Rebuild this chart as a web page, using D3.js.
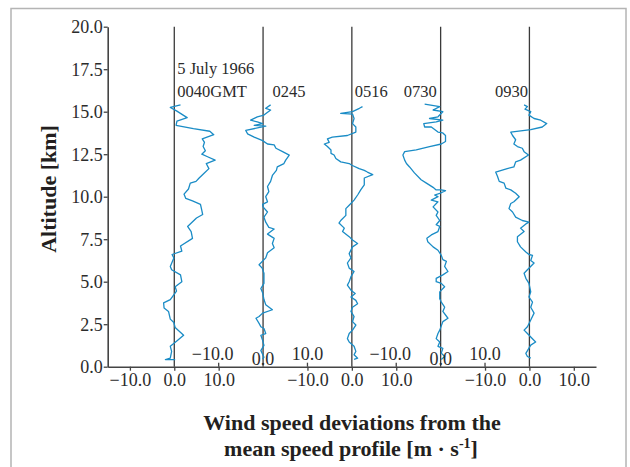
<!DOCTYPE html>
<html>
<head>
<meta charset="utf-8">
<script src="https://cdn.jsdelivr.net/npm/d3@7"></script>
<style>
  body { margin: 0; background: #fff; }
  text { font-family: "Liberation Serif", "Times New Roman", serif; }
</style>
</head>
<body>
<svg id="chart" width="630" height="467"></svg>
<script>
"use strict";

// soundings: [altitude km, deviation m/s]
var p0040 = [[15.4,1.4],[15.25,-0.9],[15.05,0.5],[14.8,2.0],[14.65,2.9],[14.45,0.6],[14.2,0.4],[14.0,4.3],[13.85,8.0],[13.65,8.9],[13.4,6.3],[13.2,6.8],[12.95,6.5],[12.7,7.0],[12.5,6.2],[12.35,7.5],[12.15,9.2],[11.95,7.2],[11.65,7.8],[11.35,6.6],[11.1,5.6],[10.9,4.9],[10.8,3.6],[10.45,3.2],[10.15,2.2],[9.9,2.6],[9.75,4.1],[9.55,5.9],[9.2,6.2],[8.95,6.4],[8.75,5.0],[8.5,4.0],[8.25,3.0],[7.95,3.8],[7.55,4.1],[7.1,1.4],[6.8,1.7],[6.6,-0.5],[6.4,-0.1],[5.9,-0.9],[5.7,-0.6],[5.4,1.4],[5.0,1.7],[4.7,0.2],[4.45,0.5],[3.95,-0.9],[3.75,-2.4],[3.45,-2.3],[3.25,-1.3],[2.8,-0.9],[2.6,-0.1],[2.3,0.2],[1.85,2.1],[1.5,0.5],[1.2,-0.9],[0.9,-0.6],[0.5,-0.9],[0.42,-2.0],[0.42,0.2]];
var p0245 = [[15.4,1.7],[15.2,0.6],[15.1,1.7],[14.8,0.2],[14.7,-1.3],[14.5,-2.8],[14.4,-1.3],[14.3,-0.1],[14.2,-2.0],[14.15,0.6],[13.9,-3.9],[13.7,-3.5],[13.5,-2.0],[13.3,-0.1],[13.1,1.0],[13.05,2.5],[12.85,2.9],[12.65,4.4],[12.45,5.9],[12.15,5.1],[11.95,4.7],[11.75,3.2],[11.55,3.0],[11.25,2.1],[10.9,1.7],[10.6,1.0],[10.3,1.3],[10.0,0.6],[9.7,1.0],[9.55,-0.1],[9.4,0.0],[9.1,1.0],[8.8,0.2],[8.5,0.6],[8.2,1.3],[8.1,2.5],[7.8,1.0],[7.55,2.5],[7.25,2.1],[7.0,2.5],[6.7,1.0],[6.4,0.6],[6.0,-0.9],[5.8,-0.2],[5.5,0.2],[4.9,0.2],[4.6,-0.5],[4.35,-0.1],[3.95,0.2],[3.65,0.6],[3.35,2.1],[3.15,-0.1],[2.95,-0.9],[2.85,-1.6],[2.55,-0.9],[2.35,-0.5],[2.25,0.2],[1.95,0.6],[1.85,-0.5],[1.55,-0.1],[1.25,0.2],[0.95,-0.5],[0.55,0.2],[0.45,-0.1]];
var p0516 = [[15.3,2.4],[15.2,1.7],[15.0,0.15],[14.9,-2.5],[14.86,0.15],[14.6,0.5],[14.3,0.15],[14.1,0.9],[13.8,0.9],[13.6,-1.0],[13.5,-4.4],[13.4,-5.5],[13.2,-5.1],[13.1,-6.2],[12.95,-5.5],[12.75,-4.7],[12.55,-4.7],[12.45,-4.0],[12.25,-3.6],[12.05,-2.5],[11.95,-0.6],[11.85,0.0],[11.65,1.65],[11.55,2.8],[11.45,3.5],[11.3,4.7],[11.1,2.8],[10.7,2.8],[10.4,2.0],[10.1,1.3],[9.8,0.5],[9.5,-0.6],[9.3,-1.35],[8.9,-1.35],[8.6,-2.5],[8.45,-2.9],[8.15,-1.7],[7.95,-2.1],[7.65,-0.6],[7.45,0.15],[7.25,1.3],[7.05,0.15],[6.65,-0.6],[6.4,-0.2],[6.1,-1.0],[5.8,-0.6],[5.6,0.5],[5.3,-0.2],[5.0,-0.6],[4.8,-1.0],[4.5,-0.2],[4.3,0.75],[4.1,-0.2],[3.9,0.9],[3.7,1.3],[3.5,0.15],[3.25,-0.2],[2.95,0.5],[2.65,0.15],[2.45,0.9],[2.15,0.15],[1.95,-0.6],[1.65,-1.0],[1.45,-0.6],[1.2,0.5],[0.9,0.9],[0.7,0.5],[0.5,1.3],[0.43,0.5]];
var p0730 = [[15.45,-3.6],[15.3,-0.2],[15.1,-1.7],[15.0,0.5],[14.7,-0.6],[14.6,-2.5],[14.5,0.5],[14.4,-1.0],[14.3,-3.8],[14.1,-3.6],[14.1,-2.1],[13.8,-0.6],[13.75,0.5],[13.6,1.1],[13.25,1.1],[13.1,0.15],[12.95,-2.5],[12.75,-5.5],[12.65,-8.1],[12.45,-8.5],[12.15,-8.1],[11.95,-7.7],[11.75,-7.0],[11.4,-5.9],[11.0,-4.4],[10.8,-3.2],[10.55,-1.7],[10.4,-1.0],[10.4,0.15],[10.35,1.1],[10.2,-0.2],[10.1,-1.35],[10.0,-0.6],[9.8,-2.1],[9.7,-0.6],[9.4,-1.7],[9.1,-0.6],[8.9,-1.0],[8.6,-0.2],[8.35,-1.0],[8.25,-0.2],[7.95,-0.6],[7.75,-2.1],[7.55,-3.1],[7.35,-2.9],[7.05,-1.7],[6.85,-0.6],[6.55,0.15],[6.3,0.5],[6.2,1.3],[5.9,0.9],[5.6,1.65],[5.4,0.5],[5.2,-1.0],[5.0,-1.0],[4.9,0.15],[4.7,0.9],[4.4,-0.2],[4.0,-0.2],[3.8,0.15],[3.5,0.9],[3.25,0.5],[2.85,1.65],[2.65,0.5],[2.15,-0.2],[1.95,-0.6],[1.65,-1.0],[1.45,-0.2],[1.2,-0.6],[1.08,0.5],[0.8,0.15],[0.6,0.9],[0.43,0.15]];
var p0930 = [[15.4,-1.2],[15.3,-0.45],[15.15,-1.0],[15.0,0.3],[14.8,-0.1],[14.6,1.05],[14.5,2.55],[14.3,3.9],[14.1,2.9],[13.95,0.3],[13.8,-4.2],[13.6,-3.8],[13.35,-3.1],[13.1,-3.5],[12.95,-2.7],[12.85,-1.6],[12.65,-1.2],[12.45,-0.2],[12.15,-2.0],[12.05,-3.1],[11.75,-3.5],[11.65,-5.0],[11.45,-7.6],[11.2,-7.2],[10.9,-6.8],[10.8,-5.7],[10.5,-5.3],[10.4,-4.2],[10.2,-3.1],[10.0,-2.3],[9.7,-3.5],[9.6,-4.2],[9.3,-4.6],[9.1,-3.8],[8.8,-3.1],[8.6,-1.6],[8.5,-0.1],[8.4,-0.8],[8.15,-2.0],[7.95,-1.2],[7.65,-2.7],[7.35,-2.7],[7.05,-2.0],[6.75,-0.8],[6.6,-0.1],[6.55,0.7],[6.25,0.3],[6.1,1.05],[5.7,-0.45],[5.5,-1.2],[5.2,-0.8],[4.9,-0.1],[4.4,0.3],[4.1,-0.1],[3.8,0.7],[3.5,0.3],[3.15,1.05],[2.75,0.3],[2.35,-0.45],[2.15,-1.2],[1.95,-0.45],[1.75,0.3],[1.45,1.4],[1.27,0.3],[0.78,-0.8],[0.6,-0.45],[0.5,0.3]];

var profiles = [p0040, p0245, p0516, p0730, p0930];
var profileTimes = ["0040GMT", "0245", "0516", "0730", "0930"];
var dateLabel = "5 July 1966";
var offsets = [0, 20, 40, 60, 80];          // zero line of each sounding, in m/s units on the shared axis
var relTicks = [-10, 0, 10];
var lowerProfiles = [0, 2, 4];              // tick labels below the axis
var upperProfiles = [1, 3];                 // tick labels above the axis
var altTicks = [0, 2.5, 5, 7.5, 10, 12.5, 15, 17.5, 20];

var svg = d3.select("#chart");

// outer frame
svg.append("rect")
    .attr("x", 11).attr("y", 8.5)
    .attr("width", 615).attr("height", 480)
    .style("fill", "none")
    .style("stroke", "#b4b4b4")
    .style("stroke-width", 1.5);

var x = d3.scaleLinear().domain([-15, 95]).range([107.7, 596]);
var y = d3.scaleLinear().domain([0, 20]).range([366.7, 26.7]);

// zero lines
svg.selectAll("line.zero")
    .data(offsets)
    .enter().append("line")
    .attr("class", "zero")
    .attr("x1", function (d) { return x(d); })
    .attr("x2", function (d) { return x(d); })
    .attr("y1", y(20))
    .attr("y2", y(0))
    .style("stroke", "#3a3a3a")
    .style("stroke-width", 1.3);

// wind profiles
var line = d3.line()
    .x(function (d) { return d.x; })
    .y(function (d) { return d.y; });

profiles.forEach(function (p, i) {
    var pts = p.map(function (d) { return { x: x(offsets[i] + d[1]), y: y(d[0]) }; });
    svg.append("path")
        .attr("d", line(pts))
        .style("fill", "none")
        .style("stroke", "#1a8cc6")
        .style("stroke-width", 1.3)
        .style("stroke-linejoin", "round");
});

// y axis
var yAxis = svg.append("g")
    .attr("transform", "translate(" + x(-15) + ",0)")
    .call(d3.axisLeft(y).tickValues(altTicks).tickSize(4).tickSizeOuter(0).tickFormat(d3.format(".1f")));

// x axis: one shared line, labels relative to each zero line
var bottomTicks = [];
lowerProfiles.forEach(function (i) {
    relTicks.forEach(function (r) { bottomTicks.push(offsets[i] + r); });
});
var xAxis = svg.append("g")
    .attr("transform", "translate(0," + y(0) + ")")
    .call(d3.axisBottom(x).tickValues(bottomTicks).tickSize(4).tickSizeOuter(0)
        .tickFormat(function (d) {
            var off = offsets[lowerProfiles[Math.round(d / 40)]];
            return d3.format(".1f")(d - off);
        }));

[yAxis, xAxis].forEach(function (g) {
    g.select(".domain").style("stroke", "#444").style("stroke-width", 1.6);
    g.selectAll(".tick line").style("stroke", "#444").style("stroke-width", 1.3);
    g.selectAll(".tick text")
        .style("font-family", "'Liberation Serif', serif")
        .style("font-size", "18px")
        .style("fill", "#2b2b2b");
});
yAxis.selectAll(".tick text").attr("x", -5).attr("dy", "0.34em");
xAxis.selectAll(".tick text").attr("y", 6).attr("dy", "0.74em");

// upward ticks and labels for the 2nd and 4th soundings
upperProfiles.forEach(function (i) {
    relTicks.forEach(function (r) {
        var xx = x(offsets[i] + r);
        if (r !== 0) {
            svg.append("line")
                .attr("x1", xx).attr("x2", xx)
                .attr("y1", y(0)).attr("y2", y(0) - 4)
                .style("stroke", "#444").style("stroke-width", 1.3);
        }
        svg.append("text")
            .attr("x", xx + (r < 0 ? -6 : 0))
            .attr("y", r === 0 ? 365 : 360)
            .attr("text-anchor", "middle")
            .style("font-size", "18px")
            .style("fill", "#2b2b2b")
            .text(d3.format(".1f")(r));
    });
});

// sounding times
var labelPos = [
    { dx: 3, anchor: "start" },
    { dx: 9.5, anchor: "start" },
    { dx: 3, anchor: "start" },
    { dx: -4, anchor: "end" },
    { dx: -1.5, anchor: "end" }
];
profileTimes.forEach(function (t, i) {
    svg.append("text")
        .attr("x", x(offsets[i]) + labelPos[i].dx)
        .attr("y", 97)
        .attr("text-anchor", labelPos[i].anchor)
        .style("font-size", "16.5px")
        .style("fill", "#2b2b2b")
        .text(t);
});
svg.append("text")
    .attr("x", x(offsets[0]) + 3)
    .attr("y", 74)
    .style("font-size", "16.5px")
    .style("fill", "#2b2b2b")
    .text(dateLabel);

// axis titles
svg.append("text")
    .attr("transform", "translate(56,189) rotate(-90)")
    .attr("text-anchor", "middle")
    .style("font-size", "22px")
    .style("font-weight", "bold")
    .style("fill", "#231f20")
    .text("Altitude [km]");

svg.append("text")
    .attr("x", 352).attr("y", 429.5)
    .attr("text-anchor", "middle")
    .style("font-size", "22px")
    .style("font-weight", "bold")
    .style("fill", "#231f20")
    .text("Wind speed deviations from the");

var t2 = svg.append("text")
    .attr("x", 351).attr("y", 456)
    .attr("text-anchor", "middle")
    .style("font-size", "22px")
    .style("font-weight", "bold")
    .style("fill", "#231f20");
t2.append("tspan").text("mean speed profile [m \u00b7 s");
t2.append("tspan").attr("dy", -8).style("font-size", "14px").text("-1");
t2.append("tspan").attr("dy", 8).text("]");
</script>
</body>
</html>
